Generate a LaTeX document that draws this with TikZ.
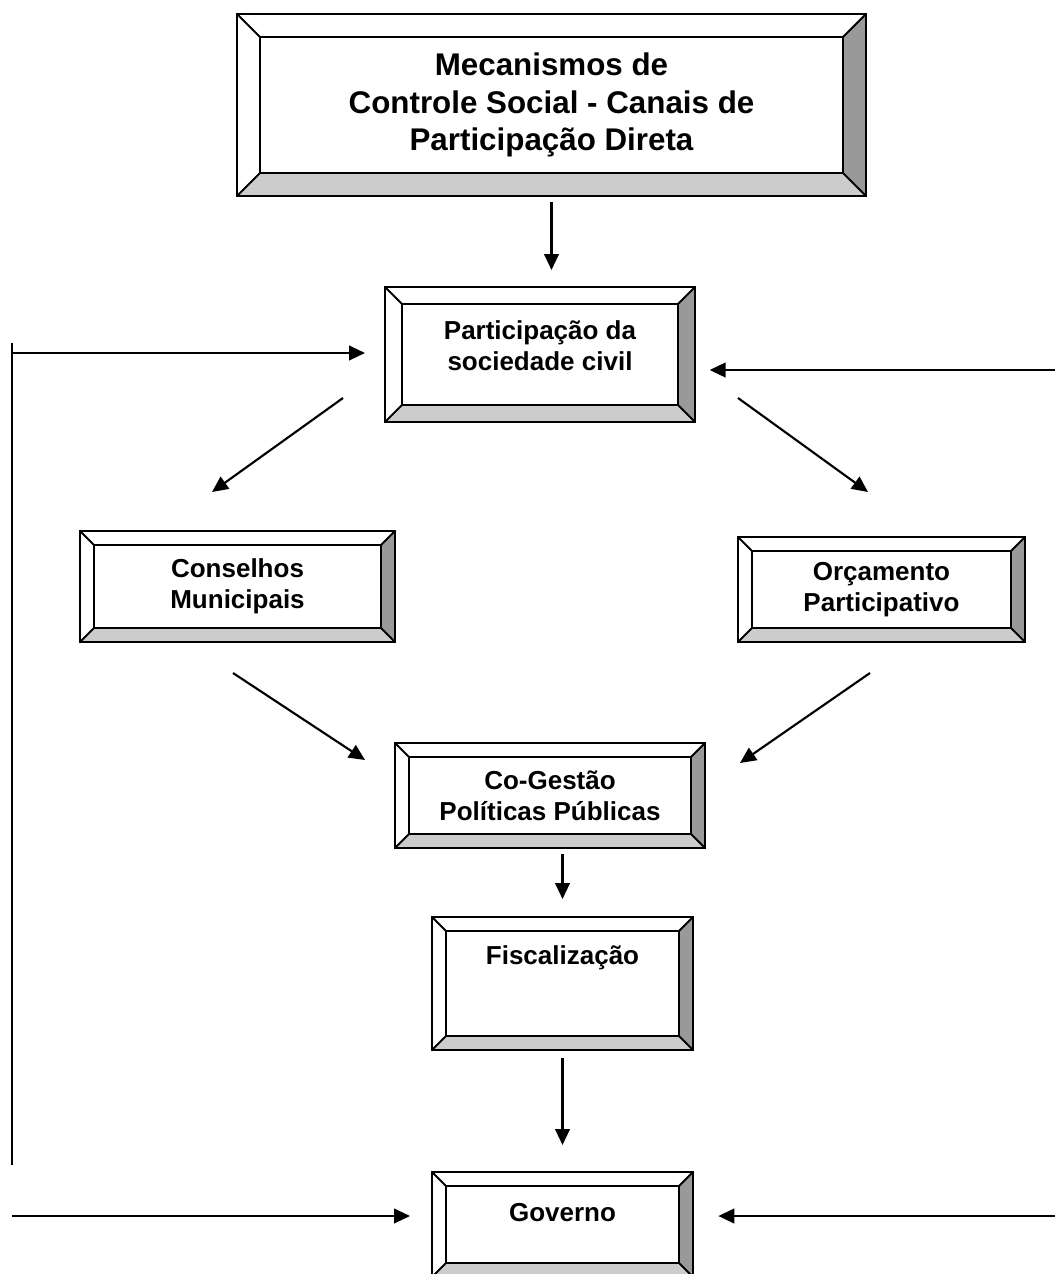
\documentclass[tikz,border=0pt]{standalone}
\usepackage{fontspec}
\setmainfont{Liberation Sans}
\usetikzlibrary{positioning,arrows.meta,calc}
\definecolor{bvdark}{RGB}{153,153,153}
\definecolor{bvlight}{RGB}{204,204,204}
\tikzset{
  frame/.style={draw=black, line width=1.5pt, line join=miter},
  holder/.style={inner sep=0pt, outer sep=0pt},
  boxtext/.style={align=center, font=\bfseries\fontsize{19.5}{23.5}\selectfont},
  bigtext/.style={align=center, font=\bfseries\fontsize{23.5}{28}\selectfont},
  arrow/.style={-{Triangle[length=12pt,width=11pt]}, line width=1.6pt},
  wire/.style={line width=1.8pt}
}
% bevelled frame: name, left, top, right, bottom, bevel
\newcommand{\bevelbox}[6]{%
  \fill[white] (#2,#3) rectangle (#4,#5);
  \fill[bvdark] (#4,#3) -- (#4,#5) -- (#4-#6,#5-#6) -- (#4-#6,#3+#6) -- cycle;
  \fill[bvlight] (#2,#5) -- (#4,#5) -- (#4-#6,#5-#6) -- (#2+#6,#5-#6) -- cycle;
  \draw[frame] (#2,#3) rectangle (#4,#5);
  \draw[frame] (#2+#6,#3+#6) rectangle (#4-#6,#5-#6);
  \draw[frame] (#2,#3) -- (#2+#6,#3+#6) (#4,#3) -- (#4-#6,#3+#6)
    (#2,#5) -- (#2+#6,#5-#6) (#4,#5) -- (#4-#6,#5-#6);
  \node[holder, minimum width={(#4-#2)*0.75pt}, minimum height={(#5-#3)*0.75pt}] (#1) at ({(#2+#4)/2},{(#3+#5)/2}) {};
}

\begin{document}
\begin{tikzpicture}[x=0.75pt, y=-0.75pt]
  \useasboundingbox (0,0) rectangle (1055,1274);
  \clip (0,0) rectangle (1055,1274);

  % boxes
  \bevelbox{mech}{237}{14}{866}{196}{23}
  \bevelbox{civil}{385}{287}{695}{422}{17}
  \bevelbox{cons}{80}{531}{395}{642}{14}
  \bevelbox{orc}{738}{537}{1025}{642}{14}
  \bevelbox{coges}{395}{743}{705}{848}{14}
  \bevelbox{fisc}{432}{917}{693}{1050}{14}
  \bevelbox{gov}{432}{1172}{693}{1277}{14}

  % texts
  \node[bigtext] (mech-t) at (mech) {Mecanismos de\\Controle Social - Canais de\\Participação Direta};
  \node[boxtext] (civil-t) at ($(civil.north)+(0,59)$) {Participação da\\sociedade civil};
  \node[boxtext] (cons-t) at (cons) {Conselhos\\Municipais};
  \node[boxtext] (orc-t) at (orc) {Orçamento\\Participativo};
  \node[boxtext] (coges-t) at (coges) {Co-Gestão\\Políticas Públicas};
  \node[boxtext] (fisc-t) at ($(fisc.north)+(0,41)$) {Fiscalização};
  \node[boxtext] (gov-t) at ($(gov.north)+(0,41)$) {Governo};

  % arrow ends
  \coordinate (cv-l) at ($(civil.south west)+(-42,-24)$);
  \coordinate (cs-in) at ($(cons.north west)+(132,-39)$);
  \coordinate (cv-r) at ($(civil.south east)+(43,-24)$);
  \coordinate (oc-in) at ($(orc.north west)+(130,-45)$);
  \coordinate (cs-out) at ($(cons.south west)+(153,31)$);
  \coordinate (cg-l) at ($(coges.north west)+(-30,17)$);
  \coordinate (oc-out) at ($(orc.south west)+(132,31)$);
  \coordinate (cg-r) at ($(coges.north east)+(35,20)$);
  \coordinate (lp-top) at (12,343);
  \coordinate (lp-bot) at (12,1165);
  \coordinate (lp-in) at (12,353);
  \coordinate (lb-in) at (12,1216);
  \coordinate (rp-in) at (1055,370);
  \coordinate (rb-in) at (1055,1216);

  % connectors
  \draw[arrow] ($(mech.south)+(0,6)$) -- ($(mech.south |- civil.north)+(0,-17)$);
  \draw[arrow] (cv-l) -- (cs-in);
  \draw[arrow] (cv-r) -- (oc-in);
  \draw[arrow] (cs-out) -- (cg-l);
  \draw[arrow] (oc-out) -- (cg-r);
  \draw[arrow] ($(fisc.north |- coges.south)+(0,6)$) -- ($(fisc.north)+(0,-18)$);
  \draw[arrow] ($(fisc.south)+(0,8)$) -- ($(gov.north)+(0,-27)$);
  \draw[wire] (lp-top) -- (lp-bot);
  \draw[arrow, shorten >=15pt] (lp-in) -- (lp-in -| civil.west);
  \draw[arrow, shorten >=16.5pt] (lb-in) -- (lb-in -| gov.west);
  \draw[arrow, shorten >=11pt] (rp-in) -- (rp-in -| civil.east);
  \draw[arrow, shorten >=19pt] (rb-in) -- (rb-in -| gov.east);
\end{tikzpicture}
\end{document}
